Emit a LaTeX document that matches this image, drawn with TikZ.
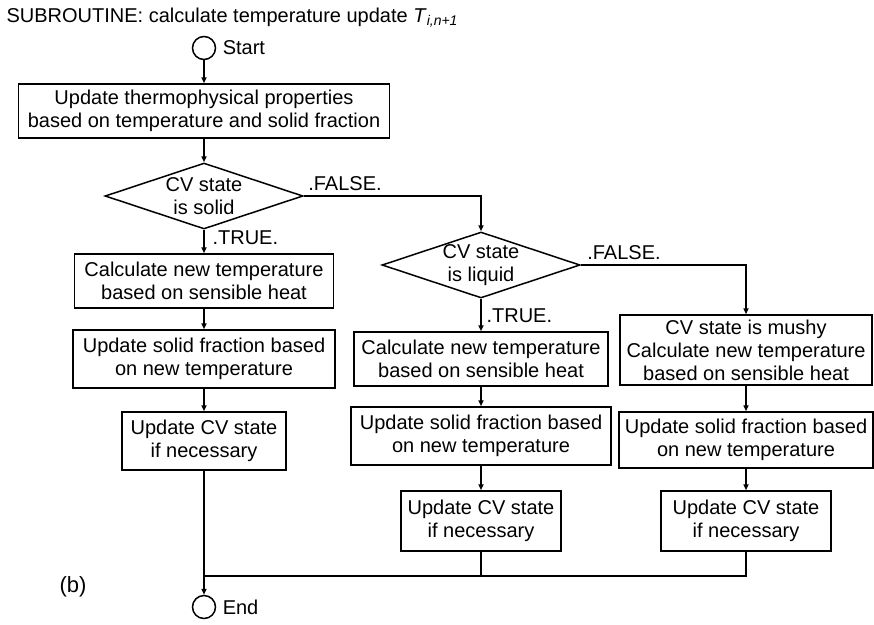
\documentclass[tikz,border=0pt]{standalone}
\usepackage{fontspec}
\setmainfont{Liberation Sans}
\usetikzlibrary{shapes.geometric,arrows.meta}

\begin{document}
\begin{tikzpicture}[x=1pt,y=-1pt,
  every node/.style={font=\fontsize{20}{23}\selectfont},
  box/.style={draw,line width=1.5pt,align=center,inner sep=0pt},
  test/.style={draw,line width=1.5pt,diamond,aspect=3,inner sep=-2pt,align=center,
    minimum width=198pt,minimum height=66pt},
  term/.style={draw,line width=1.5pt,circle,minimum size=23pt,inner sep=0pt},
  arr/.style={line width=1.5pt,-{Triangle[length=6pt,width=5pt]}},
  flow/.style={line width=1.5pt}]
\useasboundingbox (0,0) rectangle (874,624);

\node[anchor=base west] (title) at (3,22)
  {SUBROUTINE: calculate temperature update \textit{T}\textsubscript{\textit{i,n+1}}};

\node[term] (start) at (204,48) {};
\node[right=3pt] (startlab) at (start.east) {Start};

\node[box,minimum width=371pt,minimum height=54pt] (props) at (204,111)
  {Update thermophysical properties\\based on temperature and solid fraction};

\node[test] (solid) at (204,196) {CV state\\is solid};
\node[test] (liquid) at (481,265) {CV state\\is liquid};

% solid branch
\node[box,minimum width=259pt,minimum height=54pt] (sensA) at (204,281)
  {Calculate new temperature\\based on sensible heat};
\node[box,minimum width=262pt,minimum height=58pt] (fracA) at (204,359)
  {Update solid fraction based\\on new temperature};
\node[box,minimum width=164pt,minimum height=58pt] (stateA) at (204,441)
  {Update CV state\\if necessary};

% liquid branch
\node[box,minimum width=254pt,minimum height=54pt] (sensB) at (481,359)
  {Calculate new temperature\\based on sensible heat};
\node[box,minimum width=260pt,minimum height=58pt] (fracB) at (481,436)
  {Update solid fraction based\\on new temperature};
\node[box,minimum width=160pt,minimum height=60pt] (stateB) at (481,521)
  {Update CV state\\if necessary};

% mushy branch
\node[box,minimum width=252pt,minimum height=70pt] (mushy) at (746,350)
  {CV state is mushy\\Calculate new temperature\\based on sensible heat};
\node[box,minimum width=254pt,minimum height=56pt] (fracC) at (746,440)
  {Update solid fraction based\\on new temperature};
\node[box,minimum width=170pt,minimum height=60pt] (stateC) at (746,521)
  {Update CV state\\if necessary};

\node[term] (stop) at (204,607) {};
\node[right=3pt] (stoplab) at (stop.east) {End};

\node[font=\fontsize{22}{26}\selectfont] (panel) at (73,587) {(b)};

\coordinate (jA) at (204,576);
\coordinate (jB) at (481,576);
\coordinate (jC) at (746,576);

\draw[arr] (start) -- (props);
\draw[arr] (props) -- (solid);
\draw[arr] (solid) -- (sensA);
\draw[arr] (sensA) -- (fracA);
\draw[arr] (fracA) -- (stateA);
\draw[arr] (stateA) -- (stop);
\draw[arr] (solid.east) -| (liquid.north);
\draw[arr] (liquid) -- (sensB);
\draw[arr] (sensB) -- (fracB);
\draw[arr] (fracB) -- (stateB);
\draw[arr] (liquid.east) -| (mushy.north);
\draw[arr] (mushy) -- (fracC);
\draw[arr] (fracC) -- (stateC);
\draw[flow] (stateB) -- (jB) -- (jA);
\draw[flow] (stateC) -- (jC) -- (jB);

\node[anchor=base west] (falseA) at ([xshift=1pt,yshift=6pt]solid.east) {.FALSE.};
\node[anchor=base west] (trueA) at ([xshift=5pt,yshift=-15pt]solid.south) {.TRUE.};
\node[anchor=base west] (falseB) at ([xshift=3pt,yshift=6pt]liquid.east) {.FALSE.};
\node[anchor=base west] (trueB) at ([xshift=2pt,yshift=-24pt]liquid.south) {.TRUE.};
\end{tikzpicture}
\end{document}
